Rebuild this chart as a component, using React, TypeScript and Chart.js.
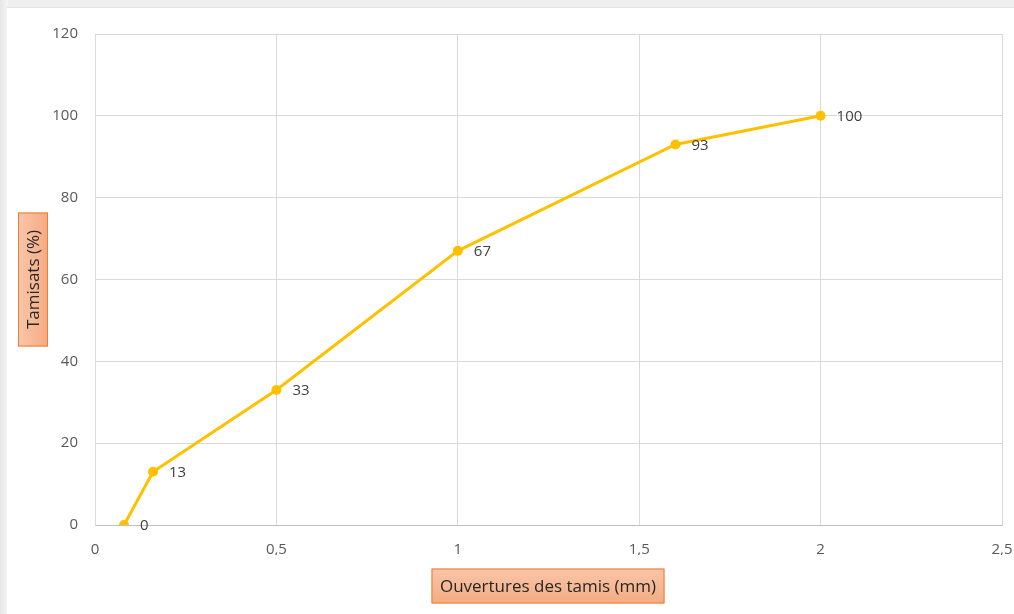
import React, { useEffect, useRef } from "react";
import { Chart, registerables } from "chart.js";

Chart.register(...registerables);

// Sieve aperture (mm) and cumulative passing (%)
const apertures: number[] = [0.08, 0.16, 0.5, 1, 1.6, 2];
const passing: number[] = [0, 13, 33, 67, 93, 100];

const xTitle = "Ouvertures des tamis (mm)";
const yTitle = "Tamisats (%)";

const FONT = "'Open Sans', 'DejaVu Sans', sans-serif";

function drawTitleBox(
  ctx: CanvasRenderingContext2D,
  text: string,
  cx: number,
  cy: number,
  vertical: boolean,
  minLen: number,
  thickness: number
) {
  ctx.save();
  ctx.font = `17px ${FONT}`;
  const tw = ctx.measureText(text).width;
  const w = Math.max(tw + 16, minLen);
  const h = thickness;
  ctx.translate(cx, cy);
  if (vertical) ctx.rotate(-Math.PI / 2);
  const g = ctx.createLinearGradient(0, -h / 2, 0, h / 2);
  g.addColorStop(0, "#f9c6a9");
  g.addColorStop(1, "#f4ab82");
  ctx.fillStyle = g;
  ctx.fillRect(-w / 2, -h / 2, w, h);
  ctx.strokeStyle = "#ed7d31";
  ctx.lineWidth = 1;
  ctx.strokeRect(-w / 2 + 0.5, -h / 2 + 0.5, w - 1, h - 1);
  ctx.fillStyle = "#262626";
  ctx.textAlign = "center";
  ctx.textBaseline = "middle";
  ctx.fillText(text, 0, 1);
  ctx.restore();
}

const decorations = {
  id: "decorations",
  afterDatasetsDraw(chart: any) {
    const ctx: CanvasRenderingContext2D = chart.ctx;
    const meta = chart.getDatasetMeta(0);
    ctx.save();
    ctx.font = `15px ${FONT}`;
    ctx.fillStyle = "#404040";
    ctx.textAlign = "left";
    ctx.textBaseline = "middle";
    meta.data.forEach((pt: any, i: number) => {
      ctx.fillText(String(passing[i]), pt.x + 16, pt.y + 1);
    });
    ctx.restore();

    const area = chart.chartArea;
    drawTitleBox(ctx, xTitle, (area.left + area.right) / 2 - 0.5, area.bottom + 61, false, 233, 35);
    drawTitleBox(ctx, yTitle, area.left - 62, (area.top + area.bottom) / 2, true, 134, 30);
  },
};

export default function App() {
  const canvasRef = useRef<HTMLCanvasElement | null>(null);

  useEffect(() => {
    if (!canvasRef.current) return;
    const chart = new Chart(canvasRef.current, {
      type: "line",
      data: {
        datasets: [
          {
            data: apertures.map((x, i) => ({ x, y: passing[i] })),
            borderColor: "#ffc000",
            backgroundColor: "#ffc000",
            borderWidth: 3,
            pointRadius: 5,
            pointBorderWidth: 0,
            pointBackgroundColor: "#ffc000",
            tension: 0,
          },
        ],
      },
      options: {
        responsive: false,
        animation: false,
        layout: { padding: { left: 0, top: 26, right: 12, bottom: 59 } },
        plugins: { legend: { display: false }, tooltip: { enabled: false } },
        scales: {
          x: {
            type: "linear",
            min: 0,
            max: 2.5,
            afterFit: (s: any) => {
              s.height = 30;
              s.paddingRight = 0;
              s.paddingLeft = 0;
            },
            border: { color: "#bfbfbf", width: 1 },
            grid: { color: "#d9d9d9", drawTicks: false },
            ticks: {
              stepSize: 0.5,
              padding: 16,
              color: "#595959",
              font: { family: FONT, size: 15 },
              callback: (v: any) => String(v).replace(".", ","),
            },
          },
          y: {
            min: 0,
            max: 120,
            afterFit: (s: any) => {
              s.width = 88;
              s.paddingTop = 0;
              s.paddingBottom = 0;
            },
            border: { color: "#d9d9d9", width: 1 },
            grid: { color: "#d9d9d9", drawTicks: false },
            ticks: {
              stepSize: 20,
              padding: 17,
              color: "#595959",
              font: { family: FONT, size: 15 },
            },
          },
        },
      },
      plugins: [decorations],
    } as any);
    return () => chart.destroy();
  }, []);

  return (
    <div
      style={{
        position: "fixed",
        left: 0,
        top: 0,
        width: 1014,
        height: 614,
        background: "#efefef",
        overflow: "hidden",
      }}
    >
      <div
        style={{
          position: "absolute",
          left: 0,
          top: 0,
          width: 8,
          height: 614,
          background: "linear-gradient(to right, #e6e6e6, #f5f5f5)",
        }}
      />
      <div
        style={{
          position: "absolute",
          left: 7,
          top: 7,
          width: 1007,
          height: 1,
          background: "#e4e4e4",
        }}
      />
      <div
        style={{
          position: "absolute",
          left: 7,
          top: 8,
          width: 1007,
          height: 606,
          background: "#ffffff",
        }}
      >
        <canvas ref={canvasRef} width={1007} height={606} style={{ display: "block" }} />
      </div>
    </div>
  );
}
